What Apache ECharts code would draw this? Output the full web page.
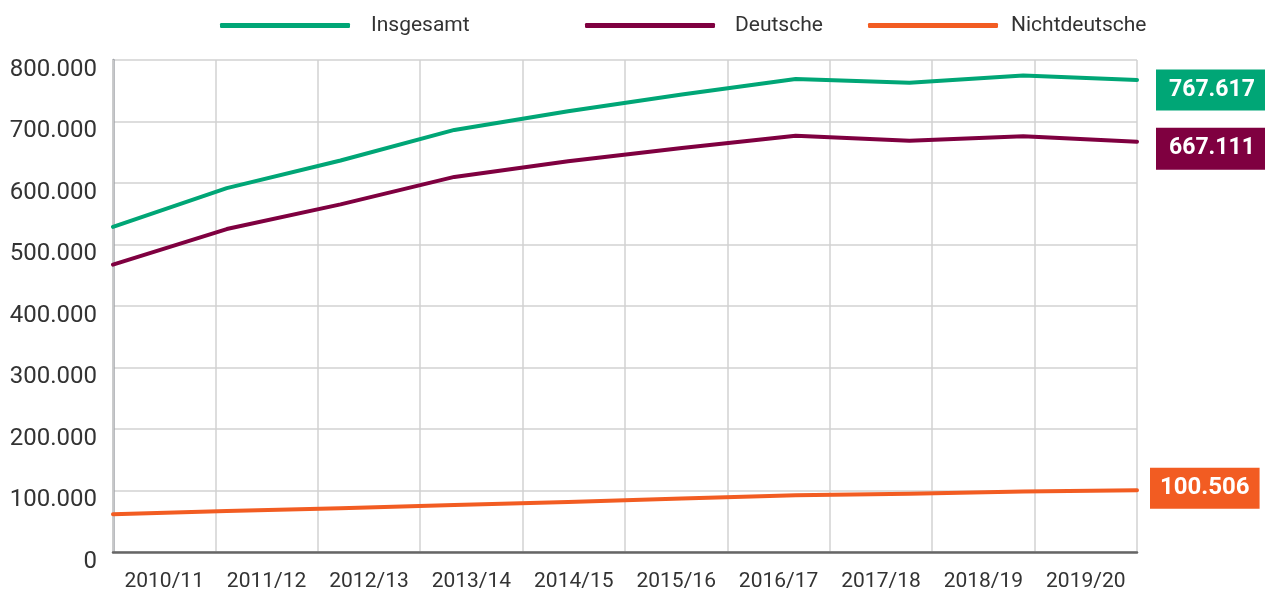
<!DOCTYPE html>
<html>
<head>
<meta charset="utf-8">
<script src="https://cdn.jsdelivr.net/npm/echarts@6/dist/echarts.min.js"></script>
<style>
  html, body { margin: 0; padding: 0; background: #fff; }
  #chart { width: 1265px; height: 592px; }
</style>
</head>
<body>
<div id="chart"></div>
<script>
const years = ['2010/11', '2011/12', '2012/13', '2013/14', '2014/15', '2015/16', '2016/17', '2017/18', '2018/19', '2019/20']
const insgesamt = [528700, 591600, 636600, 686300, 716700, 744000, 769000, 763200, 774600, 767617]
const deutsche = [467200, 525100, 565300, 609900, 635200, 657000, 676900, 668600, 676200, 667111]
const nichtdeutsche = [61500, 66500, 71300, 76400, 81500, 87000, 92100, 94600, 98400, 100506]
const yTicks = [0, 100000, 200000, 300000, 400000, 500000, 600000, 700000, 800000]

const GREEN = '#00a676'
const PURPLE = '#7f0040'
const ORANGE = '#f25c22'
const FONT = 'Roboto'

// 1.234.567 style
const fmt = v => String(v).replace(/\B(?=(\d{3})+(?!\d))/g, '.')

const legendItem = (name, left, textPad) => ({
  data: [name],
  left,
  top: 10,
  icon: 'roundRect',
  itemWidth: 130,
  itemHeight: 5,
  selectedMode: false,
  textStyle: {fontFamily: FONT, fontSize: 21, color: '#333', padding: [0, 0, 0, textPad]}
})

const endLabel = (color, fontSize, distance, offsetY, pad) => ({
  show: true,
  formatter: p => fmt(p.value),
  color: '#fff',
  fontFamily: FONT,
  fontWeight: 'bold',
  fontSize,
  backgroundColor: color,
  padding: pad,
  distance,
  offset: [0, offsetY]
})

const lineSeries = (name, data, color, label) => ({
  name,
  type: 'line',
  xAxisIndex: 1,
  data,
  symbol: 'none',
  color,
  lineStyle: {width: 4, color, cap: 'round', join: 'round'},
  endLabel: label
})

const chart = echarts.init(document.getElementById('chart'))
chart.setOption({
  animation: false,
  legend: [
    legendItem('Insgesamt', 215, 16),
    legendItem('Deutsche', 580, 15),
    legendItem('Nichtdeutsche', 863, 8)
  ],
  grid: {left: 113, right: 128, top: 60, bottom: 39},
  xAxis: [
    {
      type: 'category',
      data: years,
      boundaryGap: true,
      axisLine: {show: true, lineStyle: {color: '#666', width: 2.5}},
      axisTick: {show: false},
      axisLabel: {fontFamily: FONT, fontSize: 21, color: '#333', margin: 19, interval: 0},
      splitLine: {show: true, interval: 0, lineStyle: {color: '#d2d2d2', width: 1.5}},
      z: 3
    },
    {
      type: 'category',
      data: years,
      boundaryGap: false,
      show: false
    }
  ],
  yAxis: {
    type: 'value',
    min: yTicks[0],
    max: yTicks[yTicks.length - 1],
    interval: yTicks[1] - yTicks[0],
    axisLine: {show: true, lineStyle: {color: '#a3a6ab', width: 2.5}},
    axisTick: {show: false},
    axisLabel: {
      fontFamily: FONT, fontSize: 24, color: '#333', margin: 16,
      verticalAlign: 'top',
      lineHeight: 19,
      formatter: v => fmt(v)
    },
    splitLine: {show: true, lineStyle: {color: '#d2d2d2', width: 1.5}}
  },
  series: [
    lineSeries('Insgesamt', insgesamt, GREEN, endLabel(GREEN, 23, 19, 10, [9, 13, 9, 13])),
    lineSeries('Deutsche', deutsche, PURPLE, endLabel(PURPLE, 23, 19, 7, [9, 13, 10, 13])),
    lineSeries('Nichtdeutsche', nichtdeutsche, ORANGE, endLabel(ORANGE, 24, 13, -2, [9, 10, 8, 10]))
  ]
})
</script>
</body>
</html>
